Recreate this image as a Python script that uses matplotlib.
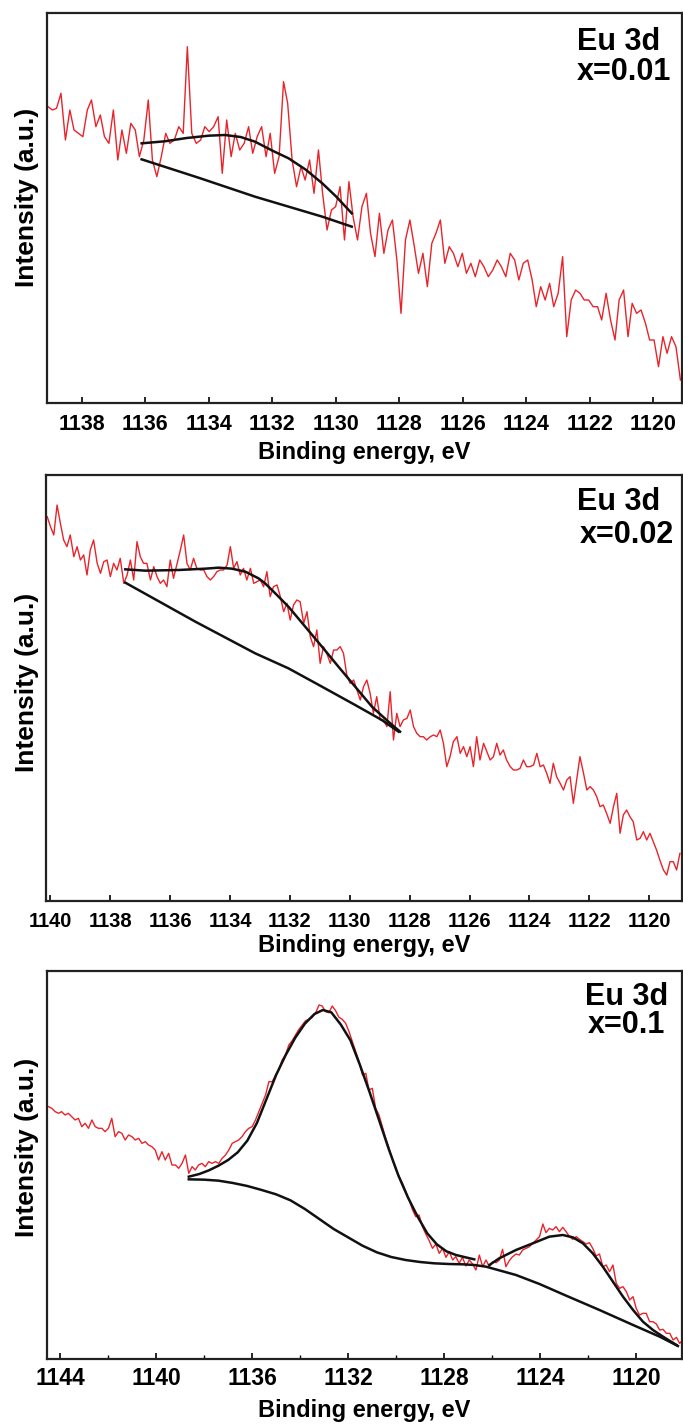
import matplotlib
matplotlib.use("Agg")
import matplotlib.pyplot as plt
from matplotlib.ticker import MultipleLocator

# ---------------- x = 0.01 ----------------
energy1 = [1139.07, 1138.93, 1138.80, 1138.66, 1138.52, 1138.38, 1138.25, 1138.11, 1137.97, 1137.83,
           1137.70, 1137.56, 1137.42, 1137.29, 1137.15, 1137.01, 1136.87, 1136.74, 1136.60, 1136.46,
           1136.32, 1136.19, 1136.05, 1135.91, 1135.78, 1135.64, 1135.50, 1135.36, 1135.23, 1135.09,
           1134.95, 1134.81, 1134.68, 1134.54, 1134.40, 1134.26, 1134.13, 1133.99, 1133.85, 1133.71,
           1133.58, 1133.44, 1133.30, 1133.17, 1133.03, 1132.89, 1132.75, 1132.62, 1132.48, 1132.34,
           1132.20, 1132.07, 1131.93, 1131.79, 1131.65, 1131.52, 1131.38, 1131.24, 1131.10, 1130.97,
           1130.83, 1130.69, 1130.55, 1130.42, 1130.28, 1130.14, 1130.01, 1129.87, 1129.73, 1129.59,
           1129.46, 1129.32, 1129.18, 1129.04, 1128.91, 1128.77, 1128.63, 1128.49, 1128.36, 1128.22,
           1128.08, 1127.95, 1127.81, 1127.67, 1127.53, 1127.40, 1127.26, 1127.12, 1126.98, 1126.85,
           1126.71, 1126.57, 1126.43, 1126.30, 1126.16, 1126.02, 1125.89, 1125.75, 1125.61, 1125.47,
           1125.34, 1125.20, 1125.06, 1124.92, 1124.79, 1124.65, 1124.51, 1124.37, 1124.24, 1124.10,
           1123.96, 1123.82, 1123.69, 1123.55, 1123.41, 1123.27, 1123.14, 1123.00, 1122.86, 1122.73,
           1122.59, 1122.45, 1122.31, 1122.18, 1122.04, 1121.90, 1121.76, 1121.63, 1121.49, 1121.35,
           1121.21, 1121.08, 1120.94, 1120.80, 1120.67, 1120.53, 1120.39, 1120.25, 1120.12, 1119.98,
           1119.84, 1119.70, 1119.57, 1119.43, 1119.29, 1119.15]
counts1 = [889, 879, 884, 929, 789, 879, 819, 809, 799, 879,
           909, 829, 864, 799, 779, 879, 729, 819, 749, 839,
           819, 739, 789, 909, 729, 679, 739, 809, 779, 789,
           829, 809, 1069, 809, 779, 789, 829, 814, 829, 859,
           689, 849, 739, 809, 759, 779, 829, 749, 799, 829,
           739, 809, 689, 739, 964, 899, 729, 649, 709, 669,
           729, 629, 759, 629, 519, 579, 589, 649, 489, 664,
           559, 489, 589, 629, 509, 439, 569, 449, 519, 549,
           429, 269, 489, 549, 469, 389, 449, 349, 479, 509,
           549, 419, 469, 449, 409, 449, 389, 419, 379, 429,
           409, 379, 399, 429, 409, 379, 449, 429, 369, 419,
           429, 369, 289, 349, 309, 359, 289, 329, 439, 199,
           309, 339, 329, 309, 309, 289, 289, 249, 329, 249,
           189, 309, 339, 199, 299, 269, 279, 239, 189, 189,
           109, 199, 149, 199, 169, 69]
env1_e = [1136.12, 1135.40, 1134.70, 1134.00, 1133.50, 1133.00, 1132.55, 1132.00, 1131.49, 1130.95,
          1130.43, 1130.00, 1129.50]
env1_i = [779, 785, 795, 802, 804, 798, 784, 757, 734, 700, 659, 620, 569]
bg1_e = [1136.12, 1134.30, 1132.55, 1130.43, 1129.50]
bg1_i = [731, 675, 619, 559, 529]

# ---------------- x = 0.02 ----------------
energy2 = [1140.11, 1140.00, 1139.89, 1139.78, 1139.67, 1139.56, 1139.45, 1139.34, 1139.22, 1139.11,
           1139.00, 1138.89, 1138.78, 1138.67, 1138.56, 1138.44, 1138.33, 1138.22, 1138.11, 1138.00,
           1137.89, 1137.78, 1137.67, 1137.55, 1137.44, 1137.33, 1137.22, 1137.11, 1137.00, 1136.89,
           1136.78, 1136.66, 1136.55, 1136.44, 1136.33, 1136.22, 1136.11, 1136.00, 1135.89, 1135.77,
           1135.66, 1135.55, 1135.44, 1135.33, 1135.22, 1135.11, 1134.99, 1134.88, 1134.77, 1134.66,
           1134.55, 1134.44, 1134.33, 1134.22, 1134.10, 1133.99, 1133.88, 1133.77, 1133.66, 1133.55,
           1133.44, 1133.32, 1133.21, 1133.10, 1132.99, 1132.88, 1132.77, 1132.66, 1132.55, 1132.43,
           1132.32, 1132.21, 1132.10, 1131.99, 1131.88, 1131.77, 1131.66, 1131.54, 1131.43, 1131.32,
           1131.21, 1131.10, 1130.99, 1130.88, 1130.77, 1130.65, 1130.54, 1130.43, 1130.32, 1130.21,
           1130.10, 1129.99, 1129.87, 1129.76, 1129.65, 1129.54, 1129.43, 1129.32, 1129.21, 1129.10,
           1128.98, 1128.87, 1128.76, 1128.65, 1128.54, 1128.43, 1128.32, 1128.21, 1128.09, 1127.98,
           1127.87, 1127.76, 1127.65, 1127.54, 1127.43, 1127.31, 1127.20, 1127.09, 1126.98, 1126.87,
           1126.76, 1126.65, 1126.54, 1126.42, 1126.31, 1126.20, 1126.09, 1125.98, 1125.87, 1125.76,
           1125.65, 1125.53, 1125.42, 1125.31, 1125.20, 1125.09, 1124.98, 1124.87, 1124.76, 1124.64,
           1124.53, 1124.42, 1124.31, 1124.20, 1124.09, 1123.98, 1123.86, 1123.75, 1123.64, 1123.53,
           1123.42, 1123.31, 1123.20, 1123.09, 1122.97, 1122.86, 1122.75, 1122.64, 1122.53, 1122.42,
           1122.31, 1122.19, 1122.08, 1121.97, 1121.86, 1121.75, 1121.64, 1121.53, 1121.42, 1121.30,
           1121.19, 1121.08, 1120.97, 1120.86, 1120.75, 1120.64, 1120.53, 1120.41, 1120.30, 1120.19,
           1120.08, 1119.97, 1119.86, 1119.75, 1119.64, 1119.52, 1119.41, 1119.30, 1119.19, 1119.08,
           1118.97]
counts2 = [1153, 1123, 1098, 1188, 1133, 1083, 1063, 1098, 1033, 1063,
           1023, 1038, 978, 1053, 1083, 1013, 983, 1018, 1023, 973,
           1013, 993, 1028, 953, 978, 1023, 963, 1078, 1033, 1013,
           1013, 963, 1003, 973, 953, 963, 943, 1023, 968, 1013,
           1053, 1098, 1013, 993, 1028, 998, 993, 993, 973, 963,
           973, 988, 993, 993, 1008, 1063, 998, 1018, 978, 998,
           963, 998, 953, 958, 963, 943,
           988, 913, 943, 948, 913, 868, 893, 843, 888, 903,
           898, 833, 868, 793, 763, 813, 713, 763, 743, 713,
           753, 753, 763, 743, 678, 653, 663, 633, 603, 643,
           663, 623, 563, 613, 543, 543, 523, 628, 483, 563,
           523, 543, 548, 573, 523, 503, 493, 493, 483, 493,
           498, 493, 513, 473, 403, 433, 478, 493, 443, 463,
           433, 463, 403,
           493, 423, 473, 448, 423, 433, 473, 438, 453, 423,
           403, 393, 393, 398, 423, 403, 403, 408, 443, 403,
           408, 383, 353, 413, 373, 353, 333, 363, 373, 293,
           363, 433, 383, 333, 343, 333, 313, 283, 288, 263,
           233, 283, 323, 203, 258, 273, 253, 238, 183, 188,
           208, 183, 203, 178, 153, 123, 93, 78, 118, 118,
           93, 143]
env2_e = [1137.50, 1136.83, 1135.72, 1134.83, 1134.38, 1133.94, 1133.49, 1133.05, 1132.83, 1132.49,
          1132.05, 1131.49, 1130.93, 1130.38, 1129.82, 1129.26, 1128.71, 1128.32]
env2_i = [995, 991, 993, 997, 1000, 997, 988, 968, 953, 923, 883, 823, 763, 703, 643, 583, 538, 508]
bg2_e = [1137.50, 1135.16, 1133.16, 1132.05, 1130.93, 1129.82, 1128.93, 1128.37]
bg2_i = [955, 838, 743, 698, 643, 588, 543, 508]

# ---------------- x = 0.1 ----------------
energy3 = [1144.49, 1144.35, 1144.21, 1144.07, 1143.94, 1143.80, 1143.66, 1143.52, 1143.38, 1143.24,
           1143.10, 1142.96, 1142.82, 1142.68, 1142.54, 1142.40, 1142.26, 1142.13, 1141.99, 1141.85,
           1141.71, 1141.57, 1141.43, 1141.29, 1141.15, 1141.01, 1140.87, 1140.73, 1140.59, 1140.45,
           1140.32, 1140.18, 1140.04, 1139.90, 1139.76, 1139.62, 1139.48, 1139.34, 1139.20, 1139.06,
           1138.92, 1138.78, 1138.64, 1138.50, 1138.37, 1138.23, 1138.09, 1137.95, 1137.81, 1137.67,
           1137.53, 1137.39, 1137.25, 1137.11, 1136.97, 1136.83, 1136.70, 1136.56, 1136.42, 1136.28,
           1136.14, 1136.00, 1135.86, 1135.72, 1135.58, 1135.44, 1135.30, 1135.16, 1135.02, 1134.88,
           1134.75, 1134.61, 1134.47, 1134.33, 1134.19, 1134.05, 1133.91, 1133.77, 1133.63, 1133.49,
           1133.35, 1133.21, 1133.08, 1132.94, 1132.80, 1132.66, 1132.52, 1132.38, 1132.24, 1132.10,
           1131.96, 1131.82, 1131.68, 1131.54, 1131.40, 1131.26, 1131.13, 1130.99, 1130.85, 1130.71,
           1130.57, 1130.43, 1130.29, 1130.15, 1130.01, 1129.87, 1129.73, 1129.59, 1129.45, 1129.31,
           1129.18, 1129.04, 1128.90, 1128.76, 1128.62, 1128.48, 1128.34, 1128.20, 1128.06, 1127.92,
           1127.78, 1127.64, 1127.51, 1127.37, 1127.23, 1127.09, 1126.95, 1126.81, 1126.67, 1126.53,
           1126.39, 1126.25, 1126.11, 1125.97, 1125.83, 1125.69, 1125.56, 1125.42, 1125.28, 1125.14,
           1125.00, 1124.86, 1124.72, 1124.58, 1124.44, 1124.30, 1124.16, 1124.02, 1123.88, 1123.75,
           1123.61, 1123.47, 1123.33, 1123.19, 1123.05, 1122.91, 1122.77, 1122.63, 1122.49, 1122.35,
           1122.21, 1122.07, 1121.94, 1121.80, 1121.66, 1121.52, 1121.38, 1121.24, 1121.10, 1120.96,
           1120.82, 1120.68, 1120.54, 1120.40, 1120.26, 1120.12, 1119.99, 1119.85, 1119.71, 1119.57,
           1119.43, 1119.29, 1119.15, 1119.01, 1118.87, 1118.73, 1118.59, 1118.45, 1118.31, 1118.18,
           1118.04]
counts3 = [757, 752, 742, 737, 742, 732, 737, 727, 717, 722,
           697, 707, 692, 717, 697, 692, 692, 682, 692, 722,
           667, 682, 677, 657, 672, 667, 657, 662, 647, 652,
           642, 637, 627, 597, 622, 597, 617, 582, 582, 572,
           587, 612, 557, 577, 567, 582, 587, 577, 592, 587,
           592, 587, 602, 612, 627, 647, 652, 657, 667, 682,
           692, 697, 717, 742, 767,
           792, 832, 832, 852, 869, 897, 912, 942, 955, 972,
           989, 1002, 1015, 1019, 1025, 1039, 1062, 1059, 1042, 1039,
           1059, 1045, 1025, 1019, 1007, 982, 952, 922, 892, 852,
           857, 807, 812, 752, 732, 697, 662, 632, 597, 569,
           547, 527, 502, 477, 447, 427, 432, 397, 375, 355,
           332, 345, 317, 332, 305, 322, 297, 307, 287, 305,
           279, 297, 285,
           267, 312, 277, 297, 277, 292, 289, 297, 329, 277,
           295, 307, 315, 312, 327, 332, 337, 347, 357, 367,
           405, 379, 392, 387, 397, 382, 395, 382, 367, 359,
           367, 359, 352, 345, 349, 332, 309, 315, 277, 282,
           262, 282, 227, 212, 217, 202, 177, 187, 152, 132,
           137, 137, 112, 112, 105, 87, 89, 77, 77, 57,
           65, 47, 57]
peak1_e = [1138.64, 1138.20, 1137.80, 1137.40, 1137.00, 1136.60, 1136.20, 1135.80, 1135.40, 1135.00,
           1134.60, 1134.20, 1133.80, 1133.40, 1133.05, 1132.70, 1132.30, 1131.90, 1131.50, 1131.10,
           1130.70, 1130.30, 1129.90, 1129.50, 1129.10, 1128.70, 1128.30, 1127.90, 1127.50, 1127.10,
           1126.74]
peak1_i = [547, 555, 566, 580, 597, 620, 655, 708, 780, 852,
           912, 964, 1006, 1035, 1047, 1040, 1003, 956, 881, 800,
           715, 629, 550, 484, 427, 377, 344, 323, 312, 305,
           299]
bg3_e = [1138.64, 1138.00, 1137.40, 1136.80, 1136.20, 1135.60, 1135.00, 1134.40, 1133.80, 1133.20,
         1132.60, 1132.00, 1131.40, 1130.80, 1130.20, 1129.60, 1129.00, 1128.40, 1127.80, 1127.20,
         1126.74, 1126.25, 1125.00, 1124.02, 1122.91, 1121.52, 1120.12, 1119.01, 1118.25]
bg3_i = [539, 538, 535, 528, 519, 507, 494, 476, 450, 420,
         390, 365, 340, 320, 306, 297, 291, 287, 285, 284,
         282, 277, 252, 225, 190, 147, 102, 67, 39]
peak2_e = [1126.11, 1125.70, 1125.00, 1124.30, 1123.61, 1123.05, 1122.63, 1122.21, 1121.80, 1121.38,
           1120.96, 1120.54, 1120.12, 1119.71, 1119.29, 1118.87, 1118.31]
peak2_i = [282, 302, 327, 347, 367, 372, 365, 347, 317, 277, 232, 187, 147, 112, 87, 67, 42]

plt.rcParams['font.family'] = ['Liberation Sans', 'DejaVu Sans']
plt.rcParams['font.weight'] = 'bold'
plt.rcParams['axes.labelweight'] = 'bold'

W, H = 683, 1424
fig = plt.figure(figsize=(W / 100, H / 100), dpi=100)


def box(left, top, right, bottom):
    return [left / W, 1 - bottom / H, (right - left) / W, (bottom - top) / H]


def panel(rect, energy, counts, fits, xlim, ymax, major, minor, tick_size, pad, labelpad,
          lines, ylab_y):
    ax = fig.add_axes(rect)
    ax.plot(energy, counts, color='#e8242b', lw=1.0)
    for e, i in fits:
        ax.plot(e, i, color='#111111', lw=1.8)
    ax.set_xlim(*xlim)
    ax.set_ylim(0, ymax)
    ax.xaxis.set_major_locator(MultipleLocator(major))
    if minor:
        ax.xaxis.set_minor_locator(MultipleLocator(minor))
    ax.tick_params(axis='x', which='major', direction='in', length=4, width=1.2,
                   labelsize=tick_size, pad=pad, top=False)
    ax.tick_params(axis='x', which='minor', direction='in', length=3, width=1.0, top=False)
    ax.set_yticks([])
    for s in ax.spines.values():
        s.set_linewidth(1.6)
        s.set_color('#222222')
    ax.set_xlabel('Binding energy, eV', fontsize=17, labelpad=labelpad)
    fig.text(27 / W, 1 - ylab_y / H, 'Intensity (a.u.)', rotation=90, fontsize=19,
             fontweight='bold', ha='center', va='center')
    for txt, xr, yb in lines:
        fig.text(xr / W, 1 - yb / H, txt, fontsize=22, fontweight='bold',
                 ha='right', va='baseline')
    return ax


panel(box(47, 13, 682, 403), energy1, counts1,
      [(env1_e, env1_i), (bg1_e, bg1_i)],
      (1139.1, 1119.1), 1170, 2, None, 15.5, 8, 4,
      [('Eu 3d', 660, 50), ('x=0.01', 671, 80)], 197)

panel(box(46, 475, 682, 901), energy2, counts2,
      [(env2_e, env2_i), (bg2_e, bg2_i)],
      (1140.15, 1118.9), 1278, 2, None, 14.5, 8, 2,
      [('Eu 3d', 660, 510), ('x=0.02', 674, 543)], 682)

panel(box(47, 971, 682, 1359), energy3, counts3,
      [(peak1_e, peak1_i), (bg3_e, bg3_i), (peak2_e, peak2_i)],
      (1144.55, 1118.08), 1164, 4, 2, 16.5, 6, 6,
      [('Eu 3d', 668, 1005), ('x=0.1', 665, 1033)], 1147)

fig.savefig('out.png', dpi=100)
